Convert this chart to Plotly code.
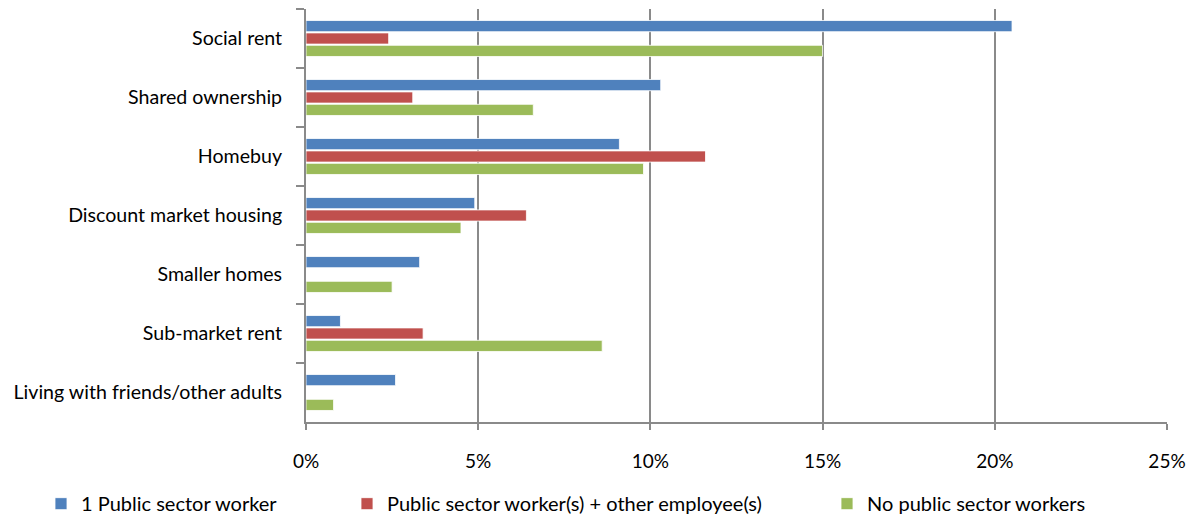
import plotly.graph_objects as go

# categories (top to bottom) and shares
categories = ["Social rent", "Shared ownership", "Homebuy", "Discount market housing",
              "Smaller homes", "Sub-market rent", "Living with friends/other adults"]
one_worker = [0.205, 0.103, 0.091, 0.049, 0.033, 0.010, 0.026]
worker_plus_other = [0.024, 0.031, 0.116, 0.064, None, 0.034, None]
no_worker = [0.150, 0.066, 0.098, 0.045, 0.025, 0.086, 0.008]

series_names = ["1 Public sector worker",
                "Public sector worker(s) + other employee(s)",
                "No public sector workers"]
colors = ["#4F81BD", "#C0504D", "#9BBB59"]

W, H = 1193, 515
FONT = "Lato"
FS = 19

fig = go.Figure()
for i, (name, vals) in enumerate(zip(series_names, [one_worker, worker_plus_other, no_worker])):
    fig.add_trace(go.Bar(
        y=categories, x=vals, name=name, orientation="h",
        marker=dict(color=colors[i], line=dict(color="rgba(255,255,255,0.8)", width=1)),
        legend="legend" if i == 0 else f"legend{i + 1}",
    ))

# legend positions in pixels (left edge of each entry)
leg_x = [41, 347, 827]
leg_common = dict(orientation="h", xref="container", yref="container", xanchor="left",
                  yanchor="middle", y=0.022, font=dict(family=FONT, size=20, color="#000"),
                  bgcolor="rgba(0,0,0,0)")

fig.update_layout(
    width=W, height=H,
    margin=dict(l=306, r=26, t=9, b=93, autoexpand=False),
    barmode="group", bargap=0.37, bargroupgap=0.1,
    plot_bgcolor="white", paper_bgcolor="white",
    font=dict(family=FONT, size=FS, color="#000"),
    showlegend=True,
    legend=dict(x=leg_x[0] / W, **leg_common),
    legend2=dict(x=leg_x[1] / W, **leg_common),
    legend3=dict(x=leg_x[2] / W, **leg_common),
)
fig.update_xaxes(
    range=[0, 0.25], dtick=0.05, tickformat=".0%",
    showgrid=True, gridcolor="#8a8a8a", gridwidth=2, zeroline=False,
    showline=True, linecolor="#8a8a8a", linewidth=2,
    ticks="outside", ticklen=6, tickwidth=2, tickcolor="#8a8a8a",
    ticklabelstandoff=15, tickfont=dict(family=FONT, size=FS, color="#000"),
)
fig.update_yaxes(
    autorange="reversed", showgrid=False,
    showline=True, linecolor="#8a8a8a", linewidth=2,
    ticks="outside", ticklen=8, tickwidth=2, tickcolor="#8a8a8a",
    tickson="boundaries", ticklabelstandoff=18,
    tickfont=dict(family=FONT, size=19.6, color="#000"),
)

fig.write_html("out.html", config={"displayModeBar": False},
               post_script="document.body.style.margin='0';")
